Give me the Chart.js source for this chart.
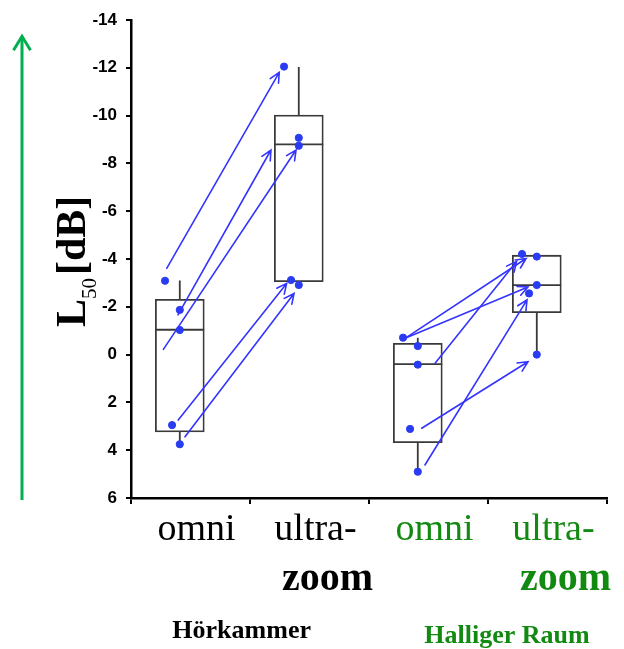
<!DOCTYPE html>
<html>
<head>
<meta charset="utf-8">
<script src="https://cdn.jsdelivr.net/npm/chart.js@4"></script>
<style>
    html, body { margin: 0; padding: 0; background: #fff; }
    #holder { width: 624px; height: 649px; }
</style>
</head>
<body>
<div id="holder"><canvas id="chart-area"></canvas></div>
<script>
var categories = ['omni', 'ultra-zoom', 'omni', 'ultra-zoom'];
var labelTop = ['omni', 'ultra-', 'omni', 'ultra-'];
var labelBottom = ['', 'zoom', '', 'zoom'];
var groups = ['Hörkammer', 'Halliger Raum'];
var yMin = -14, yMax = 6, yStep = 2;

var boxQ3 = [-2.31, -10.02, -0.47, -4.16];
var boxMedian = [-1.04, -8.8, 0.4, -2.91];
var boxQ1 = [3.24, -3.05, 3.69, -1.75];
var whiskerTop = [-3.1, -12.03, -0.71, -4.21];
var whiskerBottom = [3.75, -2.91, 4.9, 0.0];

var pointsOmni1 = [-3.09, -1.87, -1.03, 2.95, 3.75];
var pointsUltra1 = [-12.05, -9.07, -8.74, -3.12, -2.91];
var pointsOmni2 = [-0.71, -0.36, 0.42, 3.11, 4.9];
var pointsUltra2 = [-4.21, -4.1, -2.91, -2.56, 0.0];
var pointJitter = [-0.124, 0, 0, -0.065, 0];

var arrowStartX = [0.30, 0.272, 0.395, 0.397, 0.454, 2.303, 2.303, 2.555, 2.47, 2.443];
var arrowStartY = [-3.61, -0.22, -1.66, 2.74, 3.44, -0.68, -0.68, 0.36, 4.62, 3.08];
var arrowEndX = [1.246, 1.387, 1.176, 1.308, 1.37, 3.32, 3.336, 3.24, 3.328, 3.336];
var arrowEndY = [-11.81, -8.56, -8.56, -2.98, -2.56, -4.02, -2.83, -3.9, -2.29, 0.3];

var boxShift = 0.41;
var boxWidth = 0.41;
var green = '#128a12';
var blue = '#2a3cf2';

var allPoints = [pointsOmni1, pointsUltra1, pointsOmni2, pointsUltra2];
var scatterData = [];
allPoints.forEach(function (list, i) {
    list.forEach(function (v, j) {
        scatterData.push({x: i + boxShift + pointJitter[j], y: v});
    });
});
var boxData = categories.map(function (c, i) {
    return {x: i + boxShift, y: [boxQ3[i], boxQ1[i]]};
});

var boxExtras = {
    id: 'boxExtras',
    afterDatasetDraw: function (chart, args) {
        if (args.meta.type !== 'bar') return;
        var ctx = chart.ctx, x = chart.scales.x, y = chart.scales.y;
        var half = (x.getPixelForValue(boxWidth) - x.getPixelForValue(0)) / 2;
        ctx.save();
        ctx.strokeStyle = '#3a3a3a';
        ctx.lineWidth = 1.8;
        for (var i = 0; i < categories.length; i++) {
            var cx = x.getPixelForValue(i + boxShift);
            ctx.beginPath();
            ctx.moveTo(cx - half, y.getPixelForValue(boxMedian[i]));
            ctx.lineTo(cx + half, y.getPixelForValue(boxMedian[i]));
            ctx.moveTo(cx, y.getPixelForValue(boxQ3[i]));
            ctx.lineTo(cx, y.getPixelForValue(whiskerTop[i]));
            ctx.moveTo(cx, y.getPixelForValue(boxQ1[i]));
            ctx.lineTo(cx, y.getPixelForValue(whiskerBottom[i]));
            ctx.stroke();
        }
        ctx.restore();
    }
};

var arrows = {
    id: 'arrows',
    afterDatasetsDraw: function (chart) {
        var ctx = chart.ctx, x = chart.scales.x, y = chart.scales.y;
        ctx.save();
        ctx.strokeStyle = '#3434ff';
        ctx.lineWidth = 1.6;
        ctx.lineCap = 'round';
        for (var i = 0; i < arrowStartX.length; i++) {
            var x1 = x.getPixelForValue(arrowStartX[i]), y1 = y.getPixelForValue(arrowStartY[i]);
            var x2 = x.getPixelForValue(arrowEndX[i]), y2 = y.getPixelForValue(arrowEndY[i]);
            var a = Math.atan2(y2 - y1, x2 - x1), len = 11, spread = 0.45;
            ctx.beginPath();
            ctx.moveTo(x1, y1);
            ctx.lineTo(x2, y2);
            ctx.moveTo(x2 - len * Math.cos(a - spread), y2 - len * Math.sin(a - spread));
            ctx.lineTo(x2, y2);
            ctx.lineTo(x2 - len * Math.cos(a + spread), y2 - len * Math.sin(a + spread));
            ctx.stroke();
        }
        ctx.restore();
    }
};

var texts = {
    id: 'texts',
    afterDraw: function (chart) {
        var ctx = chart.ctx, x = chart.scales.x, y = chart.scales.y;
        var bottom = chart.chartArea.bottom;
        ctx.save();
        ctx.textAlign = 'center';
        ctx.textBaseline = 'alphabetic';
        for (var i = 0; i < categories.length; i++) {
            var cx = x.getPixelForValue(i + 0.5) + 6;
            ctx.fillStyle = i < 2 ? '#000' : green;
            ctx.font = '38px "Liberation Serif"';
            ctx.fillText(labelTop[i], cx, bottom + 42);
            ctx.font = 'bold 40px "Liberation Serif"';
            ctx.fillText(labelBottom[i], cx + 12, bottom + 92);
        }
        ctx.font = 'bold 26px "Liberation Serif"';
        ctx.fillStyle = '#000';
        ctx.fillText(groups[0], x.getPixelForValue(0.93), bottom + 140);
        ctx.fillStyle = green;
        ctx.fillText(groups[1], x.getPixelForValue(3.16), bottom + 145);

        // y title: L50 [dB]
        ctx.translate(85, 327);
        ctx.rotate(-Math.PI / 2);
        ctx.textAlign = 'left';
        ctx.fillStyle = '#000';
        ctx.font = 'bold 42px "Liberation Serif"';
        ctx.fillText('L', 0, 0);
        var w = ctx.measureText('L').width;
        ctx.font = '21px "Liberation Serif"';
        ctx.fillText('50', w, 11);
        w += ctx.measureText('50').width + 3;
        ctx.font = 'bold 42px "Liberation Serif"';
        ctx.fillText('[dB]', w, 0);
        ctx.restore();

        // green arrow on the left
        var ax = 22, top = y.getPixelForValue(-13.4), low = y.getPixelForValue(yMax) + 2;
        ctx.save();
        ctx.strokeStyle = '#00b050';
        ctx.lineWidth = 3;
        ctx.beginPath();
        ctx.moveTo(ax, low);
        ctx.lineTo(ax, top + 2);
        ctx.stroke();
        ctx.beginPath();
        ctx.moveTo(ax - 8.5, top + 16);
        ctx.lineTo(ax, top + 2);
        ctx.lineTo(ax + 8.5, top + 16);
        ctx.stroke();
        ctx.restore();
    }
};

var config = {
    type: 'bar',
    data: {
        datasets: [{
            type: 'scatter',
            data: scatterData,
            backgroundColor: blue,
            borderColor: blue,
            pointRadius: 3.6,
            order: 1
        }, {
            type: 'bar',
            data: boxData,
            backgroundColor: '#ffffff',
            borderColor: '#3a3a3a',
            borderWidth: 1.8,
            borderSkipped: false,
            barThickness: 49,
            order: 2
        }]
    },
    options: {
        responsive: true,
        maintainAspectRatio: false,
        animation: false,
        layout: {padding: {left: 0, right: 17, top: 20, bottom: 0}},
        plugins: {legend: {display: false}, tooltip: {enabled: false}},
        scales: {
            x: {
                type: 'linear',
                min: 0,
                max: 4,
                offset: false,
                ticks: {stepSize: 1, display: false},
                grid: {offset: false, drawOnChartArea: false, drawTicks: true, tickLength: 6, color: '#000', lineWidth: 2},
                border: {color: '#000', width: 2.5},
                afterFit: function (scale) { scale.height = 151; }
            },
            y: {
                type: 'linear',
                min: yMin,
                max: yMax,
                reverse: true,
                ticks: {stepSize: yStep, color: '#000', padding: 9, font: {family: 'Liberation Sans', size: 17, weight: 'bold'}},
                grid: {drawOnChartArea: false, drawTicks: true, tickLength: 5, color: '#000', lineWidth: 2},
                border: {color: '#000', width: 2.5},
                afterFit: function (scale) { scale.width = 131; }
            }
        }
    },
    plugins: [boxExtras, arrows, texts]
};

var ctx = document.getElementById('chart-area').getContext('2d');
var myChart = new Chart(ctx, config);
</script>
</body>
</html>
